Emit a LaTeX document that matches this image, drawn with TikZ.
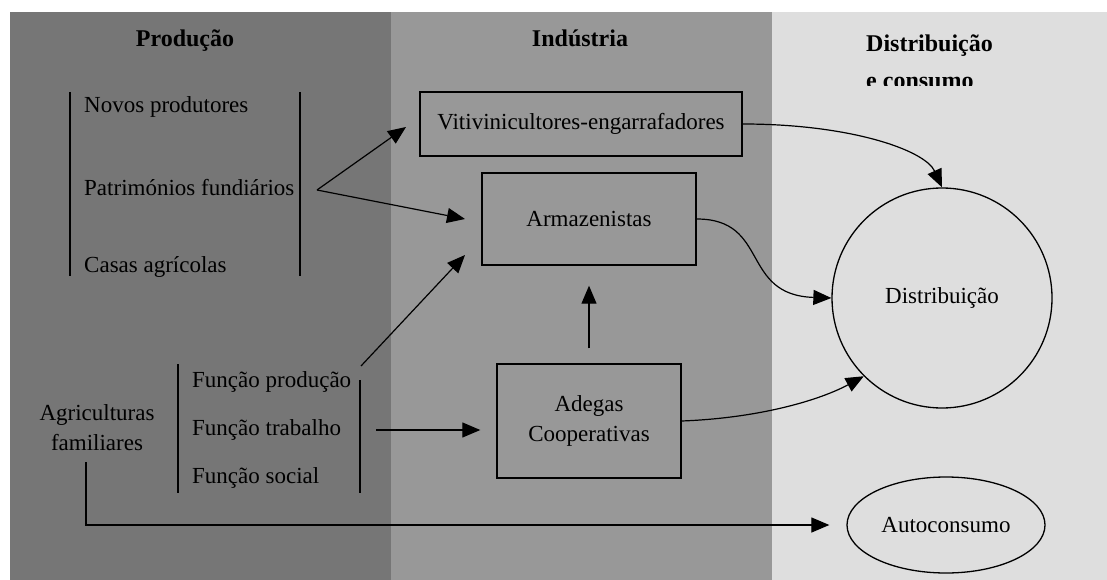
\documentclass[tikz,border=0pt]{standalone}
\usepackage{fontspec}
\setmainfont{Liberation Serif}
\usetikzlibrary{arrows.meta,shapes.geometric}
\definecolor{panelA}{HTML}{767676}
\definecolor{panelB}{HTML}{989898}
\definecolor{panelC}{HTML}{DEDEDE}
\begin{document}
\begin{tikzpicture}[x=1pt,y=-1pt,
  txt/.style={font=\fontsize{23}{30}\selectfont, inner sep=0pt},
  hdr/.style={font=\fontsize{24}{26}\selectfont\bfseries, inner sep=0pt},
  box/.style={draw, line width=1.4pt, inner sep=0pt, font=\fontsize{23}{30}\selectfont, align=center},
  lin/.style={line width=1.4pt},
  arr/.style={line width=1.2pt, -{Triangle[length=18pt,width=15pt]}},
]
\useasboundingbox (0,0) rectangle (1107,580);
\fill[white] (0,0) rectangle (1107,580);
\fill[panelA] (10,12) rectangle (391,580);
\fill[panelB] (391,12) rectangle (772,580);
\fill[panelC] (772,12) rectangle (1107,580);

% headers
\node[hdr, anchor=base] (hprod) at (185,47) {Produção};
\node[hdr, anchor=base] (hind) at (580,47) {Indústria};
\node[hdr, anchor=base west] (hdist) at (866,52) {Distribuição};
\begin{scope}
  \clip (850,60) rectangle (1010,86);
  \node[hdr, anchor=base west] (hcons) at (866,89) {e consumo};
\end{scope}

% production group
\draw[lin] (70,92) -- (70,276);
\draw[lin] (300,92) -- (300,276);
\node[txt, anchor=base west] (novos) at (84,113) {Novos produtores};
\node[txt, anchor=base west] (patr) at (84,195) {Patrimónios fundiários};
\node[txt, anchor=base west] (casas) at (84,272) {Casas agrícolas};

% family agriculture
\node[txt, align=center] (agri) at (97,428) {Agriculturas\\familiares};
\draw[lin] (178,364) -- (178,493);
\draw[lin] (360,380) -- (360,493);
\node[txt, anchor=base west] (fprod) at (192,387) {Função produção};
\node[txt, anchor=base west] (ftrab) at (192,435) {Função trabalho};
\node[txt, anchor=base west] (fsoc) at (192,483) {Função social};

% industry boxes
\node[box, minimum width=322pt, minimum height=64pt] (viti) at (581,124) {Vitivinicultores-engarrafadores};
\node[box, minimum width=214pt, minimum height=92pt] (arm) at (589,219) {Armazenistas};
\node[box, minimum width=184pt, minimum height=114pt] (adg) at (589,421) {Adegas\\Cooperativas};

% distribution
\node[draw, circle, line width=1.3pt, minimum size=220pt, inner sep=0pt, font=\fontsize{23}{30}\selectfont] (dist) at (942,298) {Distribuição};
\node[draw, ellipse, line width=1.3pt, minimum width=198pt, minimum height=96pt, inner sep=0pt, font=\fontsize{23}{30}\selectfont] (auto) at (946,525) {Autoconsumo};

% connectors
\coordinate (pf) at (317,190);
\coordinate (t1) at (406,127);
\coordinate (t2) at (465,219);
\draw[arr] (pf) -- (t1);
\draw[arr] (pf) -- (t2);

\coordinate (fp) at (361,366);
\coordinate (t3) at (465,255);
\draw[arr] (fp) -- (t3);

\coordinate (ft) at (376,430);
\draw[arr, shorten >=16pt] (ft) -- (ft -| adg.west);

\draw[arr, shorten <=15pt, shorten >=20pt] (adg.north) -- (arm.south);

\coordinate (ag) at (86,462);
\draw[arr, shorten >=17pt] (ag) |- (auto.west);

\draw[arr] (viti.east) .. controls (850,124) and (925,150) .. (dist.north);
\draw[arr] (arm.east) .. controls (770,219) and (740,295) .. (dist.west);
\draw[arr] (adg.east) .. controls (760,418) and (820,400) .. (dist.south west);
\end{tikzpicture}
\end{document}
